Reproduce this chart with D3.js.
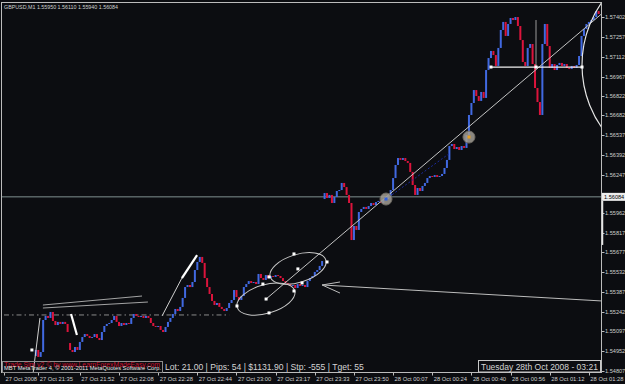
<!DOCTYPE html>
<meta charset="utf-8" />
<style>
  body { margin: 0; background: #0c0d11; }
  text { font-family: "Liberation Sans", Arial, sans-serif; }
</style>
<body>
<script src="https://cdn.jsdelivr.net/npm/d3@7/dist/d3.min.js"></script>
<script>
// GBPUSD M1 closes, one per bar, starting at bar index 13
var firstBar = 13;
var closes = [
  1.54960, 1.54909, 1.54945, 1.55180, 1.55210, 1.55195, 1.55239, 1.55173, 1.55143, 1.55166,
  1.55151, 1.55166, 1.55151, 1.55092, 1.54960, 1.54945, 1.54982, 1.54960, 1.55019, 1.55055,
  1.55077, 1.55063, 1.55048, 1.55055, 1.55077, 1.55048, 1.55033, 1.55092, 1.55136, 1.55151,
  1.55158, 1.55180, 1.55210, 1.55166, 1.55136, 1.55158, 1.55143, 1.55158, 1.55151, 1.55195,
  1.55224, 1.55210, 1.55202, 1.55210, 1.55195, 1.55210, 1.55195, 1.55158, 1.55136, 1.55129,
  1.55136, 1.55107, 1.55092, 1.55129, 1.55166, 1.55195, 1.55224, 1.55261, 1.55246, 1.55276,
  1.55342, 1.55422, 1.55437, 1.55422, 1.55459, 1.55547, 1.55606, 1.55643, 1.55599, 1.55488,
  1.55422, 1.55371, 1.55320, 1.55290, 1.55305, 1.55276, 1.55261, 1.55246, 1.55268, 1.55305,
  1.55327, 1.55400, 1.55349, 1.55327, 1.55356, 1.55422, 1.55444, 1.55466, 1.55452, 1.55459,
  1.55444, 1.55518, 1.55488, 1.55474, 1.55510, 1.55488, 1.55503, 1.55496, 1.55510, 1.55503,
  1.55488, 1.55466, 1.55452, 1.55444, 1.55430, 1.55437, 1.55415, 1.55444, 1.55430, 1.55437,
  1.55422, 1.55466, 1.55488, 1.55503, 1.55533, 1.55547, 1.55577, 1.55613, 1.56112, 1.56076,
  1.56098, 1.56039, 1.56083, 1.56127, 1.56134, 1.56186, 1.56156, 1.56098, 1.56039, 1.55767,
  1.55870, 1.55841, 1.55973, 1.55995, 1.56010, 1.55995, 1.56017, 1.56039, 1.56024, 1.56046,
  1.56054, 1.56039, 1.56061, 1.56068, 1.56090, 1.56134, 1.56222, 1.56318, 1.56369, 1.56355,
  1.56369, 1.56347, 1.56333, 1.56267, 1.56171, 1.56098, 1.56149, 1.56127, 1.56164, 1.56186,
  1.56222, 1.56237, 1.56230, 1.56244, 1.56230, 1.56237, 1.56252, 1.56296, 1.56355, 1.56457,
  1.56472, 1.56435, 1.56450, 1.56428, 1.56457, 1.56443, 1.56538, 1.56685, 1.56773, 1.56868,
  1.56824, 1.56788, 1.56854, 1.56810, 1.57015, 1.57103, 1.57155, 1.57125, 1.57045, 1.57177,
  1.57309, 1.57368, 1.57265, 1.57353, 1.57397, 1.57382, 1.57404, 1.57338, 1.57235, 1.57074,
  1.57045, 1.57177, 1.57206, 1.57059, 1.56883, 1.56780, 1.56685, 1.57206, 1.57353, 1.57191,
  1.57030, 1.57059, 1.57015, 1.57052, 1.57067, 1.57045, 1.57059, 1.57030, 1.57023, 1.57045,
  1.57030, 1.57052, 1.57118, 1.57265, 1.57316, 1.57353, 1.57368, 1.57382, 1.57404, 1.57448, 1.57426
];
// bars whose open is not the previous close (price gaps)
var gapOpens = { 13: 1.54916, 27: 1.55011, 131: 1.56068 };

var timeTickBars = [0, 14, 31, 47, 63, 79, 95, 111, 127, 143, 159, 175, 191, 207, 223, 239];
var timeTickLabels = ["27 Oct 2008", "27 Oct 21:35", "27 Oct 21:52", "27 Oct 22:08",
  "27 Oct 22:28", "27 Oct 22:44", "27 Oct 23:00", "27 Oct 23:17", "27 Oct 23:33",
  "27 Oct 23:50", "28 Oct 00:07", "28 Oct 00:24", "28 Oct 00:40", "28 Oct 00:56",
  "28 Oct 01:12", "28 Oct 01:28"];
var priceTicks = [1.57402, 1.57257, 1.57112, 1.56967, 1.56822, 1.56682, 1.56537, 1.56392,
  1.56247, 1.56107, 1.55962, 1.55817, 1.55677, 1.55532, 1.55387, 1.55242, 1.55097,
  1.54952, 1.54807];
var bidPrice = 1.56084;

// drawing objects, anchored at [bar index, price]
var dashDotLine = [[0, 1.55217], [92, 1.55217]];
var trendRay = [[107.1, 1.55334], [155.7, 1.56076]];
var dottedLine = [[157.3, 1.56083], [182.3, 1.56406]];
var fanLines = [
  [[15.9, 1.55290], [56.4, 1.55356]],
  [[15.9, 1.55268], [58.8, 1.55312]]
];
var thinLines = [
  [[11.9, 1.54791], [14.7, 1.55195]],
  [[64.6, 1.55210], [72.7, 1.55488]]
];
var thickLines = [
  [[27.4, 1.55224], [29.8, 1.55070]],
  [[72.7, 1.55488], [78.9, 1.55657]]
];
var ellipses = [
  { a: [108.8, 1.55496], b: [131.5, 1.55621], ratio: 0.48 },
  { a: [95.3, 1.55273], b: [118.8, 1.55395], ratio: 0.48 }
];
var handles = [
  [118.5, 1.55665], [132.0, 1.55606], [121.8, 1.55452], [108.3, 1.55496], [120.1, 1.55555],
  [105.8, 1.55444], [118.5, 1.55393], [95.2, 1.55283], [108.3, 1.55232], [107.1, 1.55334],
  [199.0, 1.57037], [217.4, 1.57037], [236.2, 1.57037], [11.4, 1.54960]
];
var arrowTip = [130.0, 1.55437];
var arrowWings = [[137.3, 1.55459], [137.3, 1.55378]];
var arrowTail = [244.0, 1.55320];
var signals = [
  { at: [156.1, 1.56068], mark: "#2f5fe0" },
  { at: [190.0, 1.56523], mark: "#e8a020" }
];
var levelLine = [[199.0, 1.57037], [236.2, 1.57037]];
var vLine = [[217.4, 1.57382], [217.4, 1.57037]];
var arcCircle = { center: [280.8, 1.57052], edge: [236.2, 1.57052] };

var W = 625, H = 384;
var frame = { left: 1.5, top: 2.5, right: 601.5, bottom: 372.5 };

var x = d3.scaleLinear().domain([0, 244]).range([4, 601.1]);
var y = d3.scaleLinear().domain([1.54791, 1.57529]).range([373, 0]);
function pt(d) { return [x(d[0]), y(d[1])]; }

var svg = d3.select("body").append("svg")
  .attr("width", W).attr("height", H)
  .style("display", "block");

svg.append("rect").attr("width", W).attr("height", H).attr("fill", "#0c0d11");

svg.append("clipPath").attr("id", "plot")
  .append("rect")
  .attr("x", frame.left).attr("y", frame.top)
  .attr("width", frame.right - frame.left).attr("height", frame.bottom - frame.top);

var plot = svg.append("g").attr("clip-path", "url(#plot)");
var line = d3.line();

// dash-dot level on the left
plot.append("path").attr("d", line(dashDotLine.map(pt)))
  .attr("stroke", "#8a8a8a").attr("stroke-width", 1)
  .attr("stroke-dasharray", "5,3,1.5,3").attr("fill", "none");

// bid line
plot.append("line")
  .attr("x1", frame.left).attr("x2", frame.right)
  .attr("y1", y(bidPrice)).attr("y2", y(bidPrice))
  .attr("stroke", "#7f9090").attr("stroke-width", 1);

// candles
var bars = closes.map(function (c, k) {
  var i = firstBar + k;
  var o = gapOpens[i] !== undefined ? gapOpens[i] : closes[k - 1];
  return { i: i, o: o, c: c };
});
plot.selectAll(".bar").data(bars).enter().append("rect")
  .attr("x", function (d) { return x(d.i) - 1; })
  .attr("width", 2)
  .attr("y", function (d) { return y(Math.max(d.o, d.c)); })
  .attr("height", function (d) { return Math.max(1, Math.abs(y(d.o) - y(d.c))); })
  .attr("fill", function (d) { return d.c >= d.o ? "#4169e1" : "#dc143c"; });

// trend ray to the right edge
var r1 = pt(trendRay[0]), r2 = pt(trendRay[1]);
var rEnd = [frame.right, r1[1] + (frame.right - r1[0]) * (r2[1] - r1[1]) / (r2[0] - r1[0])];
plot.append("path").attr("d", line([r1, rEnd]))
  .attr("stroke", "#c4c4c4").attr("stroke-width", 1).attr("fill", "none");

plot.append("path").attr("d", line(dottedLine.map(pt)))
  .attr("stroke", "#1c2a9a").attr("stroke-width", 1)
  .attr("stroke-dasharray", "2,2").attr("fill", "none");

fanLines.forEach(function (l) {
  plot.append("path").attr("d", line(l.map(pt)))
    .attr("stroke", "#b4b4b4").attr("stroke-width", 0.9).attr("fill", "none");
});
thinLines.forEach(function (l) {
  plot.append("path").attr("d", line(l.map(pt)))
    .attr("stroke", "#d0d0d0").attr("stroke-width", 1).attr("fill", "none");
});
thickLines.forEach(function (l) {
  plot.append("path").attr("d", line(l.map(pt)))
    .attr("stroke", "#ffffff").attr("stroke-width", 2.2).attr("fill", "none");
});

// ellipses
ellipses.forEach(function (e) {
  var a = pt(e.a), b = pt(e.b);
  var cx = (a[0] + b[0]) / 2, cy = (a[1] + b[1]) / 2;
  var rx = Math.hypot(b[0] - a[0], b[1] - a[1]) / 2;
  var ang = Math.atan2(b[1] - a[1], b[0] - a[0]) * 180 / Math.PI;
  plot.append("ellipse")
    .attr("cx", 0).attr("cy", 0).attr("rx", rx).attr("ry", rx * e.ratio)
    .attr("transform", "translate(" + cx + "," + cy + ") rotate(" + ang + ")")
    .attr("fill", "none").attr("stroke", "#c8c8c8").attr("stroke-width", 1);
});

// arrow
var tip = pt(arrowTip);
plot.append("path").attr("d", line([tip, pt(arrowTail)]))
  .attr("stroke", "#bdbdbd").attr("stroke-width", 1).attr("fill", "none");
arrowWings.forEach(function (w) {
  plot.append("path").attr("d", line([tip, pt(w)]))
    .attr("stroke", "#bdbdbd").attr("stroke-width", 1).attr("fill", "none");
});

// top-right level, vertical marker and big arc
plot.append("path").attr("d", line(levelLine.map(pt)))
  .attr("stroke", "#f0f0f0").attr("stroke-width", 1.2).attr("fill", "none");
plot.append("path").attr("d", line(vLine.map(pt)))
  .attr("stroke", "#9a9a9a").attr("stroke-width", 1).attr("fill", "none");
var cc = pt(arcCircle.center), ce = pt(arcCircle.edge);
plot.append("circle")
  .attr("cx", cc[0]).attr("cy", cc[1])
  .attr("r", Math.hypot(cc[0] - ce[0], cc[1] - ce[1]))
  .attr("fill", "none").attr("stroke", "#e4e4e4").attr("stroke-width", 1.2);

// signal markers
signals.forEach(function (s) {
  var p = pt(s.at);
  plot.append("circle").attr("cx", p[0]).attr("cy", p[1]).attr("r", 6)
    .attr("fill", "#a29d94").attr("fill-opacity", 0.85)
    .attr("stroke", "#6f6b64").attr("stroke-width", 1);
  plot.append("rect").attr("x", p[0] - 1.5).attr("y", p[1] - 1.5)
    .attr("width", 3).attr("height", 3).attr("fill", s.mark);
});

// white handles
plot.selectAll(".handle").data(handles).enter().append("rect")
  .attr("x", function (d) { return x(d[0]) - 1.5; })
  .attr("y", function (d) { return y(d[1]) - 1.5; })
  .attr("width", 3).attr("height", 3).attr("fill", "#ffffff");

// frame
svg.append("rect")
  .attr("x", frame.left).attr("y", frame.top)
  .attr("width", frame.right - frame.left).attr("height", frame.bottom - frame.top)
  .attr("fill", "none").attr("stroke", "#bcbcbc").attr("stroke-width", 1);

// price scale (the tick hidden under the bid label is not written)
var pAxis = svg.append("g");
priceTicks.forEach(function (p) {
  pAxis.append("line")
    .attr("x1", frame.right).attr("x2", frame.right + 3)
    .attr("y1", Math.round(y(p)) + 0.5).attr("y2", Math.round(y(p)) + 0.5)
    .attr("stroke", "#bcbcbc");
  if (Math.abs(y(p) - y(bidPrice)) < 6) return;
  pAxis.append("text")
    .attr("x", 605).attr("y", y(p)).attr("dy", "0.35em")
    .attr("fill", "#cfcfcf").style("font-size", "5.6px")
    .text(p.toFixed(5));
});
pAxis.append("rect")
  .attr("x", 602).attr("y", y(bidPrice) - 4)
  .attr("width", 23).attr("height", 8).attr("fill", "#ececec");
pAxis.append("line")
  .attr("x1", 602.5).attr("x2", 602.5)
  .attr("y1", y(bidPrice) + 4).attr("y2", y(1.55731))
  .attr("stroke", "#e6e6e6").attr("stroke-width", 1.5);
pAxis.append("text")
  .attr("x", 604).attr("y", y(bidPrice)).attr("dy", "0.35em")
  .attr("fill", "#000").style("font-size", "5.6px")
  .text(bidPrice.toFixed(5));

// time scale
var tAxis = svg.append("g");
timeTickBars.forEach(function (b, k) {
  tAxis.append("line")
    .attr("x1", Math.round(x(b)) + 0.5).attr("x2", Math.round(x(b)) + 0.5)
    .attr("y1", frame.bottom).attr("y2", frame.bottom + 3)
    .attr("stroke", "#bcbcbc");
  tAxis.append("text")
    .attr("x", x(b) + 1.5).attr("y", 381)
    .attr("fill", "#cfcfcf").style("font-size", "5.8px")
    .text(timeTickLabels[k]);
});

// header
svg.append("text")
  .attr("x", 4).attr("y", 9)
  .attr("fill", "#cfcfcf").style("font-size", "5.6px")
  .attr("textLength", 114).attr("lengthAdjust", "spacingAndGlyphs")
  .text("GBPUSD,M1  1.55950 1.56110 1.55940 1.56084");

// bottom overlays
svg.append("rect")
  .attr("x", 2.5).attr("y", 361.5).attr("width", 160).attr("height", 11)
  .attr("fill", "none").attr("stroke", "#8c8c8c").attr("stroke-width", 1);
svg.append("text")
  .attr("x", 4).attr("y", 366.5)
  .attr("fill", "#c8102e").style("font-size", "6.6px")
  .attr("textLength", 156).attr("lengthAdjust", "spacingAndGlyphs")
  .text("Trade Sim v2 \u00a9 by www.LearnForexMadeEasy.com");
svg.append("text")
  .attr("x", 4).attr("y", 370)
  .attr("fill", "#e8e8e8").style("font-size", "5.8px")
  .attr("textLength", 157).attr("lengthAdjust", "spacingAndGlyphs")
  .text("MBT MetaTrader 4, \u00a9 2001-2011 MetaQuotes Software Corp.");

svg.append("text")
  .attr("x", 165).attr("y", 369.5)
  .attr("fill", "#d4d4d4").style("font-size", "8.6px")
  .text("Lot: 21.00 | Pips: 54 | $1131.90 | Stp: -555 | Tget: 55");

svg.append("rect")
  .attr("x", 478.5).attr("y", 360.5).attr("width", 122).attr("height", 11.5)
  .attr("fill", "#0c0d11").attr("stroke", "#c8c8c8").attr("stroke-width", 1);
svg.append("text")
  .attr("x", 481).attr("y", 369.5)
  .attr("fill", "#d4d4d4").style("font-size", "8.5px")
  .text("Tuesday 28th Oct 2008 - 03:21");
</script>
</body>
